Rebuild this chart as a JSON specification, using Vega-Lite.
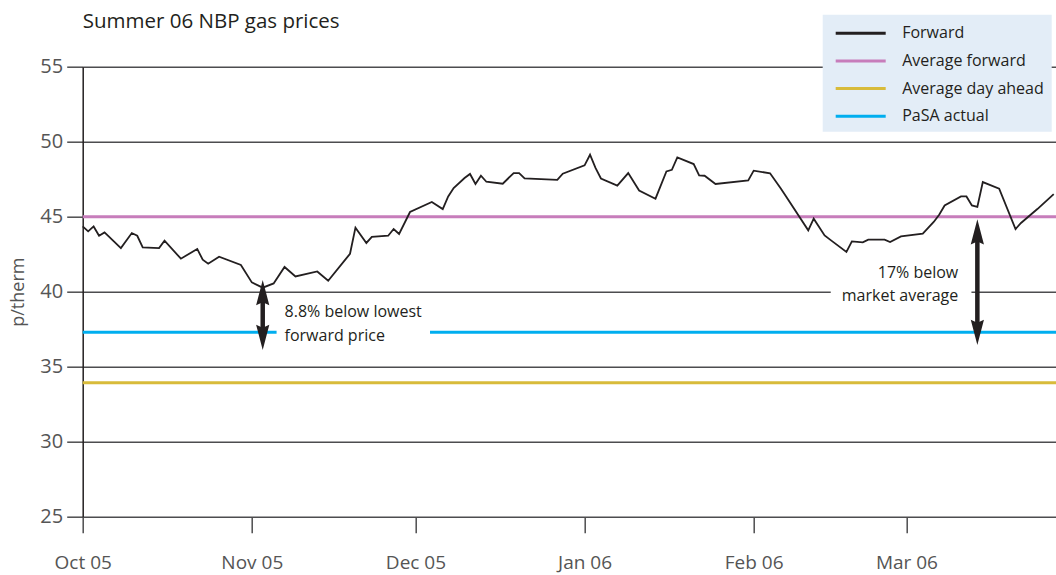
{
  "$schema": "https://vega.github.io/schema/vega-lite/v6.json",
  "width": 973.3,
  "height": 450,
  "autosize": {"type": "none"},
  "padding": {"left": 82.7, "top": 66.7, "right": 0, "bottom": 58.3},
  "title": {
    "text": "Summer 06 NBP gas prices",
    "anchor": "start",
    "frame": "group",
    "font": "Open Sans",
    "fontSize": 20.5,
    "fontWeight": "normal",
    "color": "#231f20",
    "offset": 0,
    "dy": 18
  },
  "config": {
    "font": "Open Sans",
    "view": {"stroke": null},
    "axisX": {
      "title": null,
      "domain": false,
      "grid": false,
      "tickSize": 16,
      "tickWidth": 1.5,
      "tickColor": "#4d4d4f",
      "labelFont": "Open Sans",
      "labelFontSize": 19,
      "labelColor": "#555555",
      "labelPadding": 21,
      "labelFlush": false
    },
    "axisY": {
      "grid": true,
      "gridColor": "#4d4d4f",
      "gridWidth": 1.5,
      "domainColor": "#231f20",
      "domainWidth": 1.5,
      "tickSize": 16,
      "tickWidth": 1.5,
      "tickColor": "#4d4d4f",
      "labelFont": "Open Sans",
      "labelFontSize": 20,
      "labelColor": "#555555",
      "labelPadding": 4,
      "titleFont": "Open Sans",
      "titleFontSize": 18,
      "titleFontWeight": "normal",
      "titleColor": "#555555",
      "titlePadding": 12
    }
  },
  "datasets": {
    "forward": [
      {"date": "2005-10-01", "price": 44.35, "series": "Forward"},
      {"date": "2005-10-02", "price": 44.02, "series": "Forward"},
      {"date": "2005-10-03", "price": 44.35, "series": "Forward"},
      {"date": "2005-10-04", "price": 43.73, "series": "Forward"},
      {"date": "2005-10-05", "price": 43.95, "series": "Forward"},
      {"date": "2005-10-08", "price": 42.91, "series": "Forward"},
      {"date": "2005-10-10", "price": 43.91, "series": "Forward"},
      {"date": "2005-10-11", "price": 43.73, "series": "Forward"},
      {"date": "2005-10-12", "price": 42.95, "series": "Forward"},
      {"date": "2005-10-15", "price": 42.91, "series": "Forward"},
      {"date": "2005-10-16", "price": 43.40, "series": "Forward"},
      {"date": "2005-10-19", "price": 42.20, "series": "Forward"},
      {"date": "2005-10-22", "price": 42.85, "series": "Forward"},
      {"date": "2005-10-23", "price": 42.13, "series": "Forward"},
      {"date": "2005-10-24", "price": 41.87, "series": "Forward"},
      {"date": "2005-10-26", "price": 42.33, "series": "Forward"},
      {"date": "2005-10-30", "price": 41.78, "series": "Forward"},
      {"date": "2005-11-01", "price": 40.62, "series": "Forward"},
      {"date": "2005-11-03", "price": 40.27, "series": "Forward"},
      {"date": "2005-11-05", "price": 40.55, "series": "Forward"},
      {"date": "2005-11-07", "price": 41.65, "series": "Forward"},
      {"date": "2005-11-09", "price": 41.02, "series": "Forward"},
      {"date": "2005-11-13", "price": 41.35, "series": "Forward"},
      {"date": "2005-11-15", "price": 40.73, "series": "Forward"},
      {"date": "2005-11-19", "price": 42.53, "series": "Forward"},
      {"date": "2005-11-20", "price": 44.27, "series": "Forward"},
      {"date": "2005-11-22", "price": 43.25, "series": "Forward"},
      {"date": "2005-11-23", "price": 43.65, "series": "Forward"},
      {"date": "2005-11-26", "price": 43.73, "series": "Forward"},
      {"date": "2005-11-27", "price": 44.18, "series": "Forward"},
      {"date": "2005-11-28", "price": 43.85, "series": "Forward"},
      {"date": "2005-11-30", "price": 45.31, "series": "Forward"},
      {"date": "2005-12-04", "price": 45.98, "series": "Forward"},
      {"date": "2005-12-06", "price": 45.51, "series": "Forward"},
      {"date": "2005-12-07", "price": 46.35, "series": "Forward"},
      {"date": "2005-12-08", "price": 46.91, "series": "Forward"},
      {"date": "2005-12-10", "price": 47.58, "series": "Forward"},
      {"date": "2005-12-11", "price": 47.85, "series": "Forward"},
      {"date": "2005-12-12", "price": 47.18, "series": "Forward"},
      {"date": "2005-12-13", "price": 47.73, "series": "Forward"},
      {"date": "2005-12-14", "price": 47.33, "series": "Forward"},
      {"date": "2005-12-17", "price": 47.20, "series": "Forward"},
      {"date": "2005-12-19", "price": 47.91, "series": "Forward"},
      {"date": "2005-12-20", "price": 47.91, "series": "Forward"},
      {"date": "2005-12-21", "price": 47.55, "series": "Forward"},
      {"date": "2005-12-27", "price": 47.45, "series": "Forward"},
      {"date": "2005-12-28", "price": 47.87, "series": "Forward"},
      {"date": "2006-01-01", "price": 48.42, "series": "Forward"},
      {"date": "2006-01-02", "price": 49.13, "series": "Forward"},
      {"date": "2006-01-03", "price": 48.25, "series": "Forward"},
      {"date": "2006-01-04", "price": 47.55, "series": "Forward"},
      {"date": "2006-01-07", "price": 47.07, "series": "Forward"},
      {"date": "2006-01-09", "price": 47.91, "series": "Forward"},
      {"date": "2006-01-11", "price": 46.75, "series": "Forward"},
      {"date": "2006-01-14", "price": 46.20, "series": "Forward"},
      {"date": "2006-01-16", "price": 48.02, "series": "Forward"},
      {"date": "2006-01-17", "price": 48.13, "series": "Forward"},
      {"date": "2006-01-18", "price": 48.95, "series": "Forward"},
      {"date": "2006-01-21", "price": 48.51, "series": "Forward"},
      {"date": "2006-01-22", "price": 47.75, "series": "Forward"},
      {"date": "2006-01-23", "price": 47.73, "series": "Forward"},
      {"date": "2006-01-25", "price": 47.18, "series": "Forward"},
      {"date": "2006-01-31", "price": 47.42, "series": "Forward"},
      {"date": "2006-02-01", "price": 48.07, "series": "Forward"},
      {"date": "2006-02-04", "price": 47.89, "series": "Forward"},
      {"date": "2006-02-06", "price": 46.87, "series": "Forward"},
      {"date": "2006-02-07", "price": 46.31, "series": "Forward"},
      {"date": "2006-02-11", "price": 44.09, "series": "Forward"},
      {"date": "2006-02-12", "price": 44.87, "series": "Forward"},
      {"date": "2006-02-14", "price": 43.75, "series": "Forward"},
      {"date": "2006-02-15", "price": 43.47, "series": "Forward"},
      {"date": "2006-02-18", "price": 42.65, "series": "Forward"},
      {"date": "2006-02-19", "price": 43.35, "series": "Forward"},
      {"date": "2006-02-21", "price": 43.29, "series": "Forward"},
      {"date": "2006-02-22", "price": 43.47, "series": "Forward"},
      {"date": "2006-02-25", "price": 43.47, "series": "Forward"},
      {"date": "2006-02-26", "price": 43.31, "series": "Forward"},
      {"date": "2006-02-28", "price": 43.69, "series": "Forward"},
      {"date": "2006-03-04", "price": 43.87, "series": "Forward"},
      {"date": "2006-03-06", "price": 44.65, "series": "Forward"},
      {"date": "2006-03-07", "price": 45.13, "series": "Forward"},
      {"date": "2006-03-08", "price": 45.75, "series": "Forward"},
      {"date": "2006-03-11", "price": 46.35, "series": "Forward"},
      {"date": "2006-03-12", "price": 46.35, "series": "Forward"},
      {"date": "2006-03-13", "price": 45.75, "series": "Forward"},
      {"date": "2006-03-14", "price": 45.65, "series": "Forward"},
      {"date": "2006-03-15", "price": 47.31, "series": "Forward"},
      {"date": "2006-03-18", "price": 46.87, "series": "Forward"},
      {"date": "2006-03-21", "price": 44.18, "series": "Forward"},
      {"date": "2006-03-22", "price": 44.58, "series": "Forward"},
      {"date": "2006-03-25", "price": 45.51, "series": "Forward"},
      {"date": "2006-03-28", "price": 46.51, "series": "Forward"}
    ],
    "levels": [
      {"series": "Average forward", "price": 45.0},
      {"series": "Average day ahead", "price": 33.93},
      {"series": "PaSA actual", "price": 37.3}
    ],
    "labelBoxes": [
      {"start": "2005-11-05T13:00Z", "end": "2005-12-03T16:00Z", "low": 36.6, "high": 38.0},
      {"start": "2006-02-15T03:00Z", "end": "2006-03-12T22:00Z", "low": 39.6, "high": 40.4}
    ],
    "arrows": [
      {"date": "2005-11-03", "top": 40.78, "bottom": 36.11},
      {"date": "2006-03-14", "top": 44.83, "bottom": 36.45}
    ],
    "notesLeft": [
      {"date": "2005-11-07", "price": 38.63, "note": "8.8% below lowest"},
      {"date": "2005-11-07", "price": 37.07, "note": "forward price"}
    ],
    "notesRight": [
      {"date": "2006-03-10T12:00Z", "price": 41.23, "note": "17% below"},
      {"date": "2006-03-10T12:00Z", "price": 39.73, "note": "market average"}
    ]
  },
  "layer": [
    {
      "data": {"name": "levels"},
      "mark": {"type": "rule", "strokeWidth": 3},
      "encoding": {
        "y": {
          "field": "price",
          "type": "quantitative",
          "title": "p/therm",
          "scale": {"domain": [25, 55], "nice": false, "zero": false},
          "axis": {"values": [25, 30, 35, 40, 45, 50, 55]}
        },
        "color": {
          "field": "series",
          "type": "nominal",
          "scale": {
            "domain": ["Forward", "Average forward", "Average day ahead", "PaSA actual"],
            "range": ["#231f20", "#c77dbb", "#d8bb3a", "#00aeef"]
          },
          "legend": {
            "orient": "none",
            "legendX": 740,
            "legendY": -52,
            "title": null,
            "fillColor": "#e3edf7",
            "padding": 7,
            "symbolType": "M-2.5,0L2.5,0",
            "symbolSize": 400,
            "symbolStrokeWidth": 3,
            "symbolOffset": 19.5,
            "labelOffset": 30,
            "rowPadding": 7.7,
            "labelFont": "Open Sans",
            "labelFontSize": 16,
            "labelColor": "#231f20",
            "labelLimit": 300
          }
        }
      }
    },
    {
      "data": {"name": "labelBoxes"},
      "mark": {"type": "rect", "color": "white"},
      "encoding": {
        "x": {"field": "start", "type": "temporal", "title": null},
        "x2": {"field": "end"},
        "y": {"field": "low", "type": "quantitative", "title": "p/therm"},
        "y2": {"field": "high"}
      }
    },
    {
      "data": {"name": "forward"},
      "mark": {"type": "line", "strokeWidth": 1.8},
      "encoding": {
        "x": {
          "field": "date",
          "type": "temporal",
          "title": null,
          "scale": {
            "type": "utc",
            "domain": [
              {"year": 2005, "month": 10, "date": 1, "utc": true},
              {"year": 2006, "month": 3, "date": 28, "hours": 10, "utc": true}
            ]
          },
          "axis": {
            "format": "%b %y",
            "values": [
              {"year": 2005, "month": 10, "date": 1, "utc": true},
              {"year": 2005, "month": 11, "date": 1, "utc": true},
              {"year": 2005, "month": 12, "date": 1, "utc": true},
              {"year": 2006, "month": 1, "date": 1, "utc": true},
              {"year": 2006, "month": 2, "date": 1, "utc": true},
              {"year": 2006, "month": 3, "date": 1, "utc": true}
            ]
          }
        },
        "y": {"field": "price", "type": "quantitative", "title": "p/therm"},
        "color": {
          "field": "series",
          "type": "nominal",
          "legend": {
            "orient": "none",
            "legendX": 740,
            "legendY": -52,
            "title": null,
            "fillColor": "#e3edf7",
            "padding": 7,
            "symbolType": "M-2.5,0L2.5,0",
            "symbolSize": 400,
            "symbolStrokeWidth": 3,
            "symbolOffset": 19.5,
            "labelOffset": 30,
            "rowPadding": 7.7,
            "labelFont": "Open Sans",
            "labelFontSize": 16,
            "labelColor": "#231f20",
            "labelLimit": 300
          }
        }
      }
    },
    {
      "data": {"name": "arrows"},
      "mark": {"type": "rule", "strokeWidth": 4.5, "color": "#231f20", "yOffset": 14, "y2Offset": -14},
      "encoding": {
        "x": {"field": "date", "type": "temporal", "title": null},
        "y": {"field": "top", "type": "quantitative", "title": "p/therm"},
        "y2": {"field": "bottom"}
      }
    },
    {
      "data": {"name": "arrows"},
      "mark": {"type": "point", "shape": "M0,0L0.55,2.1L0,1.85L-0.55,2.1Z", "size": 576, "filled": true, "opacity": 1, "color": "#231f20"},
      "encoding": {
        "x": {"field": "date", "type": "temporal", "title": null},
        "y": {"field": "top", "type": "quantitative", "title": "p/therm"}
      }
    },
    {
      "data": {"name": "arrows"},
      "mark": {"type": "point", "shape": "M0,0L0.55,-2.1L0,-1.85L-0.55,-2.1Z", "size": 576, "filled": true, "opacity": 1, "color": "#231f20"},
      "encoding": {
        "x": {"field": "date", "type": "temporal", "title": null},
        "y": {"field": "bottom", "type": "quantitative", "title": "p/therm"}
      }
    },
    {
      "data": {"name": "notesLeft"},
      "mark": {"type": "text", "align": "left", "baseline": "middle", "font": "Open Sans", "fontSize": 16, "color": "#231f20"},
      "encoding": {
        "x": {"field": "date", "type": "temporal", "title": null},
        "y": {"field": "price", "type": "quantitative", "title": "p/therm"},
        "text": {"field": "note"}
      }
    },
    {
      "data": {"name": "notesRight"},
      "mark": {"type": "text", "align": "right", "baseline": "middle", "font": "Open Sans", "fontSize": 16, "color": "#231f20"},
      "encoding": {
        "x": {"field": "date", "type": "temporal", "title": null},
        "y": {"field": "price", "type": "quantitative", "title": "p/therm"},
        "text": {"field": "note"}
      }
    }
  ]
}
